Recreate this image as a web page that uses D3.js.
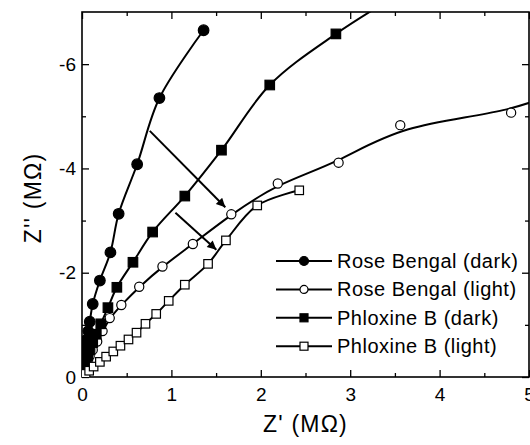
<!DOCTYPE html>
<html>
<head>
<meta charset="utf-8">
<script src="https://cdn.jsdelivr.net/npm/d3@7"></script>
<style>
  body { margin: 0; background: #fff; }
  svg text { font-family: "Liberation Sans", Arial, sans-serif; fill: #000; }
</style>
</head>
<body>
<div id="my_dataviz"></div>
<script>
// data: [Z' (MOhm), -Z'' (MOhm)]
var rbDark = [[0.005,0.05],[0.01,0.12],[0.017,0.22],[0.025,0.33],[0.035,0.45],[0.045,0.58],[0.055,0.72],[0.07,0.88],
  [0.087,1.06],[0.12,1.40],[0.2,1.85],[0.318,2.39],[0.41,3.13],[0.617,4.08],[0.866,5.35],[1.36,6.65]];
var rbLight = [[0.008,0.03],[0.02,0.1],[0.04,0.2],[0.06,0.3],[0.085,0.4],[0.12,0.52],[0.17,0.68],[0.23,0.88],
  [0.31,1.13],[0.44,1.38],[0.64,1.73],[0.90,2.12],[1.24,2.55],[1.67,3.12],[2.19,3.71],[2.87,4.11],[3.56,4.83],[4.80,5.07],[5.5,5.6]];
var pbDark = [[0.005,0.03],[0.015,0.1],[0.03,0.19],[0.045,0.29],[0.065,0.4],[0.09,0.52],[0.12,0.66],[0.16,0.82],
  [0.21,1.02],[0.29,1.33],[0.39,1.72],[0.57,2.2],[0.79,2.78],[1.15,3.47],[1.56,4.35],[2.10,5.6],[2.84,6.58],[3.6,7.4]];
var pbLight = [[0.015,0.02],[0.04,0.06],[0.08,0.12],[0.13,0.20],[0.20,0.29],[0.27,0.39],[0.35,0.49],[0.43,0.60],
  [0.52,0.72],[0.61,0.85],[0.71,1.02],[0.83,1.21],[0.97,1.46],[1.15,1.77],[1.41,2.17],[1.61,2.62],[1.96,3.29],[2.43,3.58]];

var seriesNames = ["Rose Bengal (dark)", "Rose Bengal (light)", "Phloxine B (dark)", "Phloxine B (light)"];
var xTicks = [0, 1, 2, 3, 4, 5];
var yTicks = [0, 2, 4, 6];

// arrows: [start, end] in data units
var arrows = [[[0.758,4.72],[1.603,3.256]], [[1.045,3.15],[1.503,2.44]]];

var series = [
  {name: seriesNames[0], data: rbDark, shape: "circle", fill: "#000", curve: d3.curveCatmullRom},
  {name: seriesNames[1], data: rbLight, shape: "circle", fill: "#fff", curve: d3.curveBasis},
  {name: seriesNames[2], data: pbDark, shape: "square", fill: "#000", curve: d3.curveCatmullRom},
  {name: seriesNames[3], data: pbLight, shape: "square", fill: "#fff", curve: d3.curveCatmullRom}
];

// set the dimensions and margins of the graph
var margin = {top: 12, right: 1, bottom: 68, left: 82},
    width = 530 - margin.left - margin.right,
    height = 445 - margin.top - margin.bottom;

var svg = d3.select("#my_dataviz")
  .append("svg")
    .attr("width", 530)
    .attr("height", 445)
  .append("g")
    .attr("transform", "translate(" + margin.left + "," + margin.top + ")");

var x = d3.scaleLinear().domain([0, 5]).range([0, width]);
var y = d3.scaleLinear().domain([0, 7]).range([height, 0]);

svg.append("defs").append("clipPath").attr("id", "clip")
  .append("rect").attr("width", width).attr("height", height);

svg.append("defs").append("marker")
    .attr("id", "arrowhead")
    .attr("viewBox", "0 0 10 10")
    .attr("refX", 10).attr("refY", 5)
    .attr("markerWidth", 11).attr("markerHeight", 9)
    .attr("markerUnits", "userSpaceOnUse")
    .attr("orient", "auto")
  .append("path").attr("d", "M0,0 L10,5 L0,10 z").attr("fill", "#000");

// axes: ticks inward on all four sides
function styleAxis(g) {
  g.select(".domain").remove();
  g.selectAll("line").attr("stroke", "#000").attr("stroke-width", 1.3);
}
var xMinor = d3.range(0.5, 5, 1);
var yMinor = d3.range(1, 7, 2);

svg.append("g").attr("transform", "translate(0," + height + ")")
  .call(d3.axisBottom(x).tickValues(xTicks).tickSizeInner(-7).tickSizeOuter(0).tickPadding(11).tickFormat(d3.format("d")))
  .call(styleAxis)
  .selectAll("text").attr("font-size", 19).attr("fill", "#000").attr("font-family", "Liberation Sans");
svg.append("g").attr("transform", "translate(0," + height + ")")
  .call(d3.axisBottom(x).tickValues(xMinor).tickSizeInner(-4).tickSizeOuter(0).tickFormat(""))
  .call(styleAxis);
svg.append("g")
  .call(d3.axisTop(x).tickValues(xTicks).tickSizeInner(-7).tickSizeOuter(0).tickFormat(""))
  .call(styleAxis);
svg.append("g")
  .call(d3.axisTop(x).tickValues(xMinor).tickSizeInner(-4).tickSizeOuter(0).tickFormat(""))
  .call(styleAxis);

svg.append("g")
  .call(d3.axisLeft(y).tickValues(yTicks).tickSizeInner(-7).tickSizeOuter(0).tickPadding(6)
    .tickFormat(function(d) { return d === 0 ? "0" : "-" + d; }))
  .call(styleAxis)
  .selectAll("text").attr("font-size", 19).attr("fill", "#000").attr("font-family", "Liberation Sans");
svg.append("g")
  .call(d3.axisLeft(y).tickValues(yMinor).tickSizeInner(-4).tickSizeOuter(0).tickFormat(""))
  .call(styleAxis);
svg.append("g").attr("transform", "translate(" + width + ",0)")
  .call(d3.axisRight(y).tickValues(yTicks).tickSizeInner(-7).tickSizeOuter(0).tickFormat(""))
  .call(styleAxis);
svg.append("g").attr("transform", "translate(" + width + ",0)")
  .call(d3.axisRight(y).tickValues(yMinor).tickSizeInner(-4).tickSizeOuter(0).tickFormat(""))
  .call(styleAxis);

// frame
svg.append("rect")
  .attr("width", width).attr("height", height)
  .attr("fill", "none").attr("stroke", "#000").attr("stroke-width", 1.6);

var plot = svg.append("g").attr("clip-path", "url(#clip)");

// lines
plot.selectAll(".series-line")
  .data(series)
  .enter()
  .append("path")
    .attr("class", "series-line")
    .attr("d", function(s) {
      return d3.line()
        .x(function(d) { return x(d[0]); })
        .y(function(d) { return y(d[1]); })
        .curve(s.curve)(s.data);
    })
    .attr("fill", "none")
    .attr("stroke", "#000")
    .attr("stroke-width", 2);

// markers
function drawMarker(g, s, px, py) {
  if (s.shape === "circle") {
    g.append("circle").attr("cx", px).attr("cy", py)
      .attr("r", s.fill === "#000" ? 5.3 : 4.6)
      .attr("fill", s.fill).attr("stroke", "#000").attr("stroke-width", 1.2);
  } else {
    var a = s.fill === "#000" ? 9.5 : 8.5;
    g.append("rect").attr("x", px - a / 2).attr("y", py - a / 2)
      .attr("width", a).attr("height", a)
      .attr("fill", s.fill).attr("stroke", "#000").attr("stroke-width", 1.2);
  }
}

series.forEach(function(s) {
  var g = plot.append("g");
  s.data.forEach(function(d) { drawMarker(g, s, x(d[0]), y(d[1])); });
});

// arrows
svg.selectAll(".arrow")
  .data(arrows)
  .enter()
  .append("line")
    .attr("x1", function(a) { return x(a[0][0]); })
    .attr("y1", function(a) { return y(a[0][1]); })
    .attr("x2", function(a) { return x(a[1][0]); })
    .attr("y2", function(a) { return y(a[1][1]); })
    .attr("stroke", "#000")
    .attr("stroke-width", 2)
    .attr("marker-end", "url(#arrowhead)");

// legend
var legend = svg.append("g").attr("transform", "translate(" + (276 - margin.left) + "," + (261 - margin.top) + ")");
series.forEach(function(s, i) {
  var row = legend.append("g").attr("transform", "translate(0," + (i * 28.4) + ")");
  row.append("line").attr("x1", 0).attr("x2", 56).attr("y1", 0).attr("y2", 0)
    .attr("stroke", "#000").attr("stroke-width", 2);
  if (s.shape === "circle") {
    row.append("circle").attr("cx", 28).attr("cy", 0).attr("r", s.fill === "#000" ? 4.5 : 4)
      .attr("fill", s.fill).attr("stroke", "#000").attr("stroke-width", 1.2);
  } else {
    row.append("rect").attr("x", 24).attr("y", -4).attr("width", 8).attr("height", 8)
      .attr("fill", s.fill).attr("stroke", "#000").attr("stroke-width", 1.2);
  }
  row.append("text").attr("x", 61).attr("y", 7)
    .attr("font-size", 20).attr("letter-spacing", 0.5)
    .text(s.name);
});

// axis titles
svg.append("text")
  .attr("x", width / 2).attr("y", 432 - margin.top)
  .attr("text-anchor", "middle")
  .attr("font-size", 23).attr("letter-spacing", 1.2)
  .text("Z' (M\u03A9)");

svg.append("text")
  .attr("transform", "translate(" + (41 - margin.left) + "," + (198 - margin.top) + ") rotate(-90)")
  .attr("text-anchor", "middle")
  .attr("font-size", 23).attr("letter-spacing", 1.2)
  .text("Z'' (M\u03A9)");
</script>
</body>
</html>
